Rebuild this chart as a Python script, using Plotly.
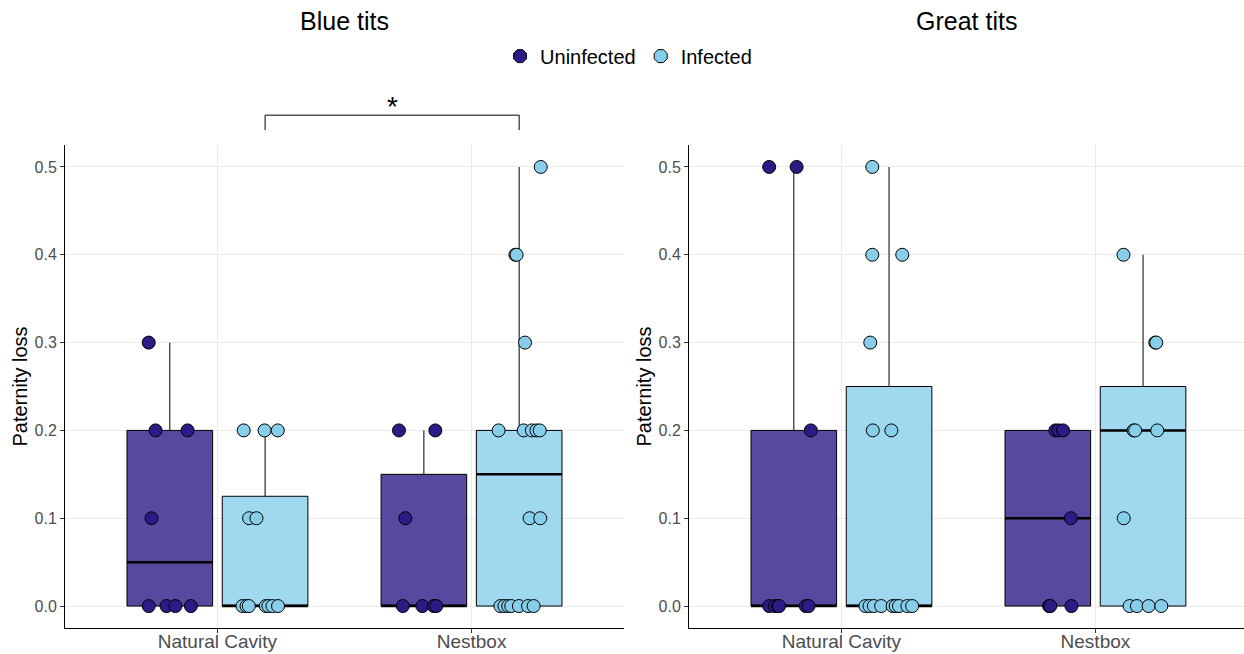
import numpy as np
import plotly.graph_objects as go

# ---------------- data ----------------
categories = ["Natural Cavity", "Nestbox"]
groups = ["Uninfected", "Infected"]
panel_titles = ["Blue tits", "Great tits"]
y_ticks = [0.0, 0.1, 0.2, 0.3, 0.4, 0.5]

# Blue tits
bt_nc_uninf = [0.3, 0.2, 0.2, 0.1, 0, 0, 0, 0]
bt_nc_inf = [0.2, 0.2, 0.2, 0.1, 0.1, 0, 0, 0, 0, 0, 0, 0]
bt_nb_uninf = [0.2, 0.2, 0.1, 0, 0, 0, 0]
bt_nb_inf = [0.5, 0.4, 0.4, 0.3, 0.2, 0.2, 0.2, 0.2, 0.2, 0.1, 0.1,
             0, 0, 0, 0, 0, 0, 0]
# Great tits
gt_nc_uninf = [0.5, 0.5, 0.2, 0, 0, 0, 0, 0, 0]
gt_nc_inf = [0.5, 0.4, 0.4, 0.3, 0.2, 0.2, 0, 0, 0, 0, 0, 0, 0, 0, 0]
gt_nb_uninf = [0.2, 0.2, 0.2, 0.1, 0, 0, 0]
gt_nb_inf = [0.4, 0.3, 0.3, 0.2, 0.2, 0.2, 0.1, 0, 0, 0, 0]

# horizontal jitter of each point (category units)
bt_nc_uninf_jit = [-0.083, -0.056, 0.070, -0.072, -0.083, -0.013, 0.022, 0.083]
bt_nc_inf_jit = [-0.084, -0.002, 0.050, -0.063, -0.034,
                 -0.089, -0.073, -0.064, 0.003, 0.013, 0.029, 0.051]
bt_nb_uninf_jit = [-0.098, 0.045, -0.073, -0.083, -0.006, 0.039, 0.049]
bt_nb_inf_jit = [0.085, -0.015, -0.010, 0.023, -0.081, 0.018, 0.050, 0.068, 0.081,
                 0.041, 0.083, -0.074, -0.058, -0.043, -0.031, -0.001, 0.035, 0.057]
gt_nc_uninf_jit = [-0.097, 0.011, 0.067, -0.097, -0.075, -0.063, -0.058, 0.047, 0.058]
gt_nc_inf_jit = [-0.066, -0.066, 0.052, -0.074, -0.064, 0.009,
                 -0.093, -0.077, -0.060, -0.031, 0.014, 0.026, 0.039, 0.072, 0.091]
gt_nb_uninf_jit = [0.030, 0.043, 0.060, 0.091, 0.005, 0.010, 0.093]
gt_nb_inf_jit = [-0.077, 0.048, 0.052, -0.037, -0.031, 0.056, -0.076,
                 -0.053, -0.024, 0.022, 0.072]

panels = [
    {"Uninfected": [(bt_nc_uninf, bt_nc_uninf_jit), (bt_nb_uninf, bt_nb_uninf_jit)],
     "Infected": [(bt_nc_inf, bt_nc_inf_jit), (bt_nb_inf, bt_nb_inf_jit)]},
    {"Uninfected": [(gt_nc_uninf, gt_nc_uninf_jit), (gt_nb_uninf, gt_nb_uninf_jit)],
     "Infected": [(gt_nc_inf, gt_nc_inf_jit), (gt_nb_inf, gt_nb_inf_jit)]},
]

# ---------------- style ----------------
FONT = "Liberation Sans, Arial, sans-serif"
point_col = {"Uninfected": "#2E1A87", "Infected": "#87CEEB"}
box_col = {"Uninfected": "rgba(46,26,135,0.8)", "Infected": "rgba(135,206,235,0.8)"}
dodge = {"Uninfected": -0.1875, "Infected": 0.1875}
box_w = 0.337
y_range = [-0.025, 0.525]
x_ranges = [[0.4, 2.6], [0.4, 2.585]]
x_domains = [[0.0, 0.4741], [0.5293, 1.0]]


def box_stats(vals):
    v = np.sort(np.asarray(vals, dtype=float))
    q1, med, q3 = np.percentile(v, [25, 50, 75])
    iqr = q3 - q1
    lo = v[v >= q1 - 1.5 * iqr].min()
    hi = v[v <= q3 + 1.5 * iqr].max()
    return q1, med, q3, lo, hi


fig = go.Figure()

for p, panel in enumerate(panels):
    xa = "x" if p == 0 else "x2"
    ya = "y" if p == 0 else "y2"
    for g in groups:
        px_all, py_all = [], []
        med_x, med_y = [], []
        for ci, (vals, jit) in enumerate(panel[g]):
            pos = ci + 1 + dodge[g]
            q1, med, q3, lo, hi = box_stats(vals)
            fig.add_trace(go.Box(
                x=[pos], q1=[q1], median=[med], q3=[q3],
                lowerfence=[lo], upperfence=[hi],
                width=box_w, fillcolor=box_col[g],
                line=dict(color="black", width=1), whiskerwidth=0,
                boxpoints=False, showlegend=False, hoverinfo="skip",
                xaxis=xa, yaxis=ya))
            med_x += [pos - box_w / 2, pos + box_w / 2, None]
            med_y += [med, med, None]
            px_all += [pos + j for j in jit]
            py_all += list(vals)
        fig.add_trace(go.Scatter(
            x=med_x, y=med_y, mode="lines",
            line=dict(color="black", width=2.5),
            showlegend=False, hoverinfo="skip", xaxis=xa, yaxis=ya))
        fig.add_trace(go.Scatter(
            x=px_all, y=py_all, mode="markers",
            marker=dict(size=13, color=point_col[g],
                        line=dict(color="black", width=1)),
            name=g, showlegend=False, xaxis=xa, yaxis=ya))

# legend entries
for g in groups:
    fig.add_trace(go.Scatter(
        x=[None], y=[None], mode="markers", name=g,
        marker=dict(size=14, symbol="octagon", color=point_col[g],
                    line=dict(color="black", width=1)),
        showlegend=True))


def ypaper(v):
    return (v - y_range[0]) / (y_range[1] - y_range[0])


axis_common = dict(
    showgrid=True, gridcolor="#EBEBEB", gridwidth=1,
    showline=True, linecolor="black", linewidth=1,
    ticks="outside", ticklen=4, tickcolor="#333333",
    zeroline=False, fixedrange=True, automargin=False,
)
layout_axes = {}
for p in range(2):
    sfx = "" if p == 0 else "2"
    layout_axes["xaxis" + sfx] = dict(
        axis_common, domain=x_domains[p], range=x_ranges[p],
        tickvals=[1, 2], ticktext=categories,
        tickfont=dict(size=19, color="#4D4D4D", family=FONT),
        ticklabelstandoff=-8,
        anchor="y" + sfx)
    layout_axes["yaxis" + sfx] = dict(
        axis_common, domain=[0, 1], range=y_range,
        tickvals=y_ticks, tickformat=".1f",
        tickfont=dict(size=16, color="#4D4D4D", family=FONT),
        title=dict(text="Paternity loss", font=dict(size=20, color="black", family=FONT),
                   standoff=1),
        anchor="x" + sfx)

fig.update_layout(
    width=1244, height=654,
    margin=dict(l=65, r=0, t=145, b=26, autoexpand=False),
    paper_bgcolor="white", plot_bgcolor="white",
    font=dict(family=FONT, color="black"),
    showlegend=True,
    legend=dict(orientation="h", x=0.478, xanchor="center", y=1.184, yanchor="middle",
                font=dict(size=20, color="black", family=FONT),
                itemwidth=30, tracegroupgap=0, bgcolor="rgba(0,0,0,0)"),
    **layout_axes,
)

# panel titles
for p in range(2):
    fig.add_annotation(
        text=panel_titles[p], xref="paper", yref="paper",
        x=(x_domains[p][0] + x_domains[p][1]) / 2, y=1.256,
        xanchor="center", yanchor="middle", showarrow=False,
        font=dict(size=25, color="black", family=FONT))

# significance bracket between infected groups (blue tits)
bx0 = 1 + dodge["Infected"]
bx1 = 2 + dodge["Infected"]
br_top, br_bot = 0.559, 0.542
fig.add_shape(type="path", xref="x", yref="paper",
              path=f"M {bx0} {ypaper(br_bot)} L {bx0} {ypaper(br_top)} "
                   f"L {bx1} {ypaper(br_top)} L {bx1} {ypaper(br_bot)}",
              line=dict(color="black", width=1))
fig.add_annotation(text="*", xref="x", yref="paper",
                   x=(bx0 + bx1) / 2, y=ypaper(br_top), yanchor="bottom",
                   showarrow=False, yshift=-9,
                   font=dict(size=28, color="black", family=FONT))

fig.write_html("out.html",
               config={"displayModeBar": False, "staticPlot": True},
               post_script="document.body.style.margin='0px';"
                           "document.body.style.overflow='hidden';")
